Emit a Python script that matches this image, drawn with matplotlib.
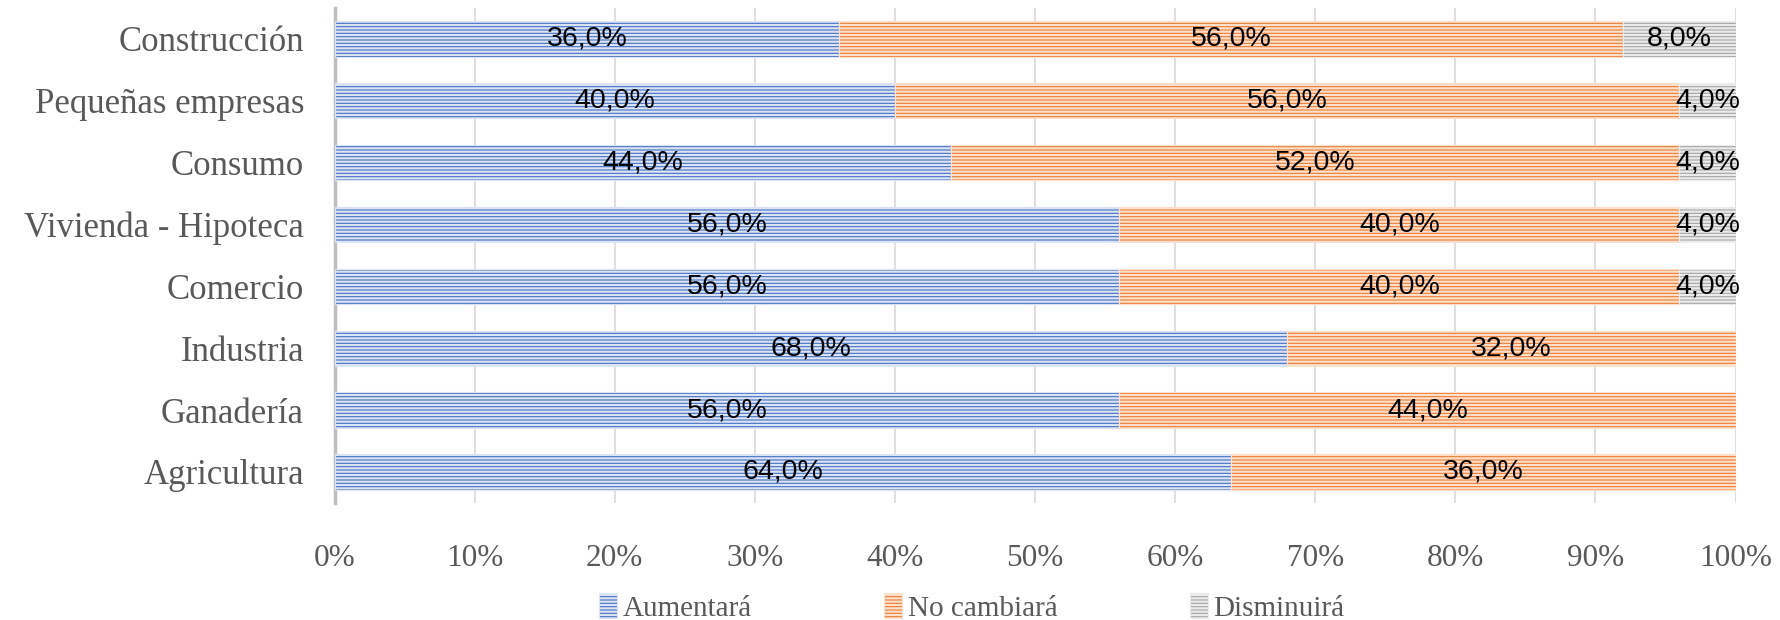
import matplotlib
matplotlib.use('Agg')
import matplotlib.pyplot as plt
import matplotlib.ticker as mticker
import numpy as np

categorias = ['Agricultura', 'Ganadería', 'Industria', 'Comercio',
              'Vivienda - Hipoteca', 'Consumo', 'Pequeñas empresas', 'Construcción']
aumentara = [64, 56, 68, 56, 56, 44, 40, 36]
no_cambiara = [36, 44, 32, 40, 40, 52, 56, 56]
disminuira = [0, 0, 0, 4, 4, 4, 4, 8]

series = [
    ('Aumentará', aumentara, '#4472C4', '#DCE4F4'),
    ('No cambiará', no_cambiara, '#ED7D31', '#FCE0CC'),
    ('Disminuirá', disminuira, '#A5A5A5', '#EBEBEB'),
]

plt.rcParams['hatch.linewidth'] = 1.6
serif = 'Liberation Serif'
gris = '#595959'

fig = plt.figure(figsize=(17.8, 6.2), dpi=100)
ax = fig.add_axes([0.188, 0.189, 0.787, 0.798])

y = np.arange(len(categorias))
left = np.zeros(len(categorias))
for nombre, vals, color, rayas in series:
    vals = np.array(vals, dtype=float)
    bars = ax.barh(y, vals, left=left, height=0.57, color=color,
                   edgecolor=rayas, linewidth=0.8, hatch='-----', label=nombre, zorder=3)
    for b, v in zip(bars, vals):
        if v > 0:
            ax.text(b.get_x() + b.get_width() / 2, b.get_y() + b.get_height() / 2,
                    f'{v:.1f}'.replace('.', ',') + '%', ha='center', va='center',
                    fontsize=20.5, family='Liberation Sans', color='black', zorder=4)
    left += vals

ax.set_xlim(0, 100)
ax.set_ylim(-0.5, len(categorias) - 0.5)
ax.set_yticks(y)
ax.set_yticklabels(categorias, fontsize=25, family=serif, color=gris)
ax.xaxis.set_major_locator(mticker.MultipleLocator(10))
ax.xaxis.set_major_formatter(mticker.FuncFormatter(lambda v, p: f'{v:.0f}%'))
for t in ax.get_xticklabels():
    t.set_family(serif)
ax.tick_params(axis='x', labelsize=22.5, labelcolor=gris, length=0, pad=30)
ax.tick_params(axis='y', length=0, pad=22)
ax.grid(axis='x', color='#D9D9D9', linewidth=1.2, zorder=0)
for s in ['top', 'right', 'bottom']:
    ax.spines[s].set_visible(False)
ax.spines['left'].set_color('#BFBFBF')
ax.spines['left'].set_linewidth(2.5)

leg = fig.legend(loc='lower center', bbox_to_anchor=(0.546, -0.045), ncol=3, frameon=False,
                 prop={'family': serif, 'size': 21}, handlelength=0.6, handleheight=0.9,
                 handletextpad=0.2, columnspacing=4.55)
for t in leg.get_texts():
    t.set_color(gris)

fig.savefig('out.png', dpi=100)
